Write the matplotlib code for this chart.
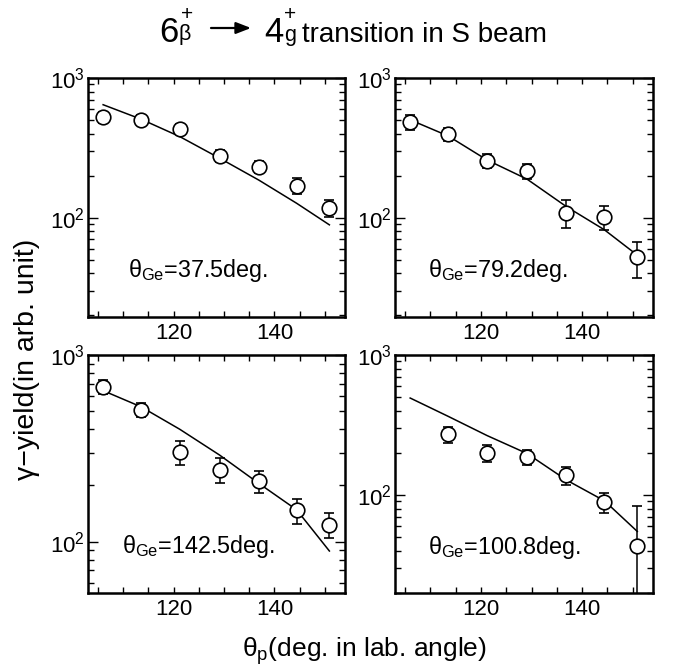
import matplotlib
matplotlib.use("Agg")
import matplotlib.pyplot as plt
from matplotlib.ticker import MultipleLocator, LogLocator, NullFormatter

plt.rcParams.update({
    "font.family": ["Liberation Sans", "DejaVu Sans"],
    "mathtext.fontset": "custom",
    "mathtext.rm": "Liberation Sans",
    "mathtext.it": "Liberation Sans",
    "mathtext.default": "regular",
    "xtick.direction": "in",
    "ytick.direction": "in",
    "xtick.top": True,
    "ytick.right": True,
})

# ---------------------------------------------------------------- data
theta_p = [106.0, 113.5, 121.2, 129.1, 136.9, 144.4, 150.9]

tl_y = [525, 502, 431, 277, 232, 169, 118]
tl_err = [45, 40, 35, 26, 23, 22, 17]
tl_fit = [644, 508, 381, 267, 186, 127, 89]

tr_y = [488, 397, 256, 216, 109, 102, 52]
tr_err = [60, 44, 30, 26, 24, 20, 15]
tr_fit = [502, 385, 259, 189, 120, 82, 54]

bl_y = [676, 508, 303, 242, 211, 147, 123]
bl_err = [55, 43, 45, 37, 28, 23, 19]
bl_fit = [644, 528, 400, 291, 205, 148, 89]

br_x = theta_p[1:]
br_y = [271, 199, 187, 139, 89, 43]
br_err = [35, 27, 22, 20, 15, 41]
br_fit = [493, 365, 266, 198, 128, 91, 55]

labels = ["37.5", "79.2", "142.5", "100.8"]

# ---------------------------------------------------------------- plot
W, H = 674, 670
fig = plt.figure(figsize=(W / 100, H / 100), dpi=100)


def px_axes(x0, y0, x1, y1):
    return fig.add_axes([x0 / W, 1 - y1 / H, (x1 - x0) / W, (y1 - y0) / H])


def px_text(x, y, s, **kw):
    # x, y in pixels from the top-left corner, y is the baseline
    fig.text(x / W, 1 - y / H, s, va="baseline", ha="left", **kw)


panels = [
    (px_axes(88, 78, 345, 317), theta_p, tl_y, tl_err, tl_fit, 19.5, (0.156, 0.167)),
    (px_axes(395, 78, 653, 317), theta_p, tr_y, tr_err, tr_fit, 19.5, (0.128, 0.167)),
    (px_axes(88, 355, 345, 593), theta_p, bl_y, bl_err, bl_fit, 53, (0.133, 0.168)),
    (px_axes(395, 355, 653, 593), br_x, br_y, br_err, br_fit, 20, (0.128, 0.162)),
]

for (ax, xs, ys, es, fit, ymin, tpos), lab in zip(panels, labels):
    ax.plot(theta_p, fit, color="black", lw=1.1, zorder=2)
    ax.errorbar(xs, ys, yerr=es, fmt="o", ms=10.5, mfc="white", mec="black",
                mew=1.2, ecolor="black", elinewidth=1.1, capsize=3.5,
                capthick=1.1, zorder=3)
    ax.set_yscale("log")
    ax.set_xlim(103, 154)
    ax.set_ylim(ymin, 1000)
    ax.xaxis.set_major_locator(MultipleLocator(20))
    ax.xaxis.set_minor_locator(MultipleLocator(5))
    ax.yaxis.set_major_locator(LogLocator(base=10))
    ax.yaxis.set_minor_locator(LogLocator(base=10, subs=range(2, 10)))
    ax.yaxis.set_minor_formatter(NullFormatter())
    ax.tick_params(which="major", axis="x", length=4, width=1, labelsize=16, pad=4)
    ax.tick_params(which="minor", axis="x", length=4, width=1)
    ax.tick_params(which="major", axis="y", length=7, width=1, labelsize=16, pad=2)
    ax.tick_params(which="minor", axis="y", length=4, width=1)
    for sp in ax.spines.values():
        sp.set_linewidth(1.8)
    ax.text(tpos[0], tpos[1], r"$\theta_{Ge}$=" + lab + "deg.",
            transform=ax.transAxes, fontsize=16.8, va="baseline", ha="left")

fig.text(0.040, 0.463, "γ−yield(in arb. unit)", rotation=90, fontsize=20.5,
         ha="center", va="center")
fig.text(0.540, 0.02, r"$\theta_{p}$(deg. in lab. angle)", fontsize=19,
         ha="center", va="baseline")

# title, built from pieces
px_text(159, 42, "6", fontsize=25)
px_text(181, 20, "+", fontsize=15)
px_text(179, 40, "β", fontsize=15.5)
panels[0][0].annotate(
    "", xy=(251 / W, 1 - 28 / H), xytext=(211 / W, 1 - 28 / H),
    xycoords="figure fraction", textcoords="figure fraction",
    arrowprops=dict(arrowstyle="-|>,head_length=0.9,head_width=0.35",
                    color="black", lw=1.6, shrinkA=0, shrinkB=0),
    annotation_clip=False)
px_text(264, 42, "4", fontsize=25)
px_text(284, 20, "+", fontsize=15)
px_text(284, 41, "g", fontsize=15.5)
px_text(302, 42, "transition in S beam", fontsize=20)

fig.savefig("out.png", dpi=100)
